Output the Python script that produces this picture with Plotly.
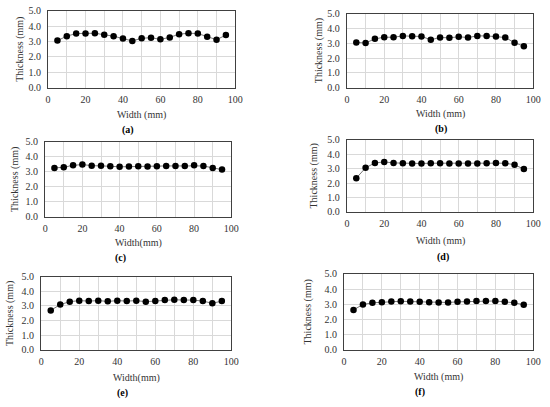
# Thickness profiles across the width for six samples (a)-(f)
import plotly.graph_objects as go

# Data
width_mm = [5, 10, 15, 20, 25, 30, 35, 40, 45, 50, 55, 60, 65, 70, 75, 80, 85, 90, 95]

thickness_a = [3.06, 3.35, 3.52, 3.52, 3.54, 3.44, 3.35, 3.19, 3.04, 3.21, 3.25, 3.14,
               3.27, 3.48, 3.54, 3.52, 3.31, 3.12, 3.42]
thickness_b = [3.06, 3.02, 3.30, 3.41, 3.41, 3.50, 3.48, 3.46, 3.24, 3.39, 3.37, 3.44,
               3.39, 3.50, 3.50, 3.46, 3.39, 3.04, 2.80]
thickness_c = [3.26, 3.30, 3.43, 3.48, 3.41, 3.41, 3.37, 3.33, 3.35, 3.37, 3.35, 3.37,
               3.39, 3.39, 3.39, 3.43, 3.39, 3.26, 3.15]
thickness_d = [2.34, 3.06, 3.40, 3.47, 3.40, 3.38, 3.36, 3.36, 3.38, 3.38, 3.36, 3.36,
               3.36, 3.36, 3.38, 3.40, 3.38, 3.27, 2.97]
thickness_e = [2.69, 3.09, 3.29, 3.36, 3.33, 3.36, 3.31, 3.36, 3.33, 3.36, 3.29, 3.33,
               3.40, 3.42, 3.40, 3.40, 3.33, 3.18, 3.33]
thickness_f = [2.62, 2.98, 3.09, 3.13, 3.17, 3.19, 3.17, 3.15, 3.13, 3.11, 3.11, 3.15,
               3.17, 3.21, 3.21, 3.21, 3.15, 3.09, 2.96]

panel_labels = ["(a)", "(b)", "(c)", "(d)", "(e)", "(f)"]
x_titles = ["Width (mm)", "Width (mm)", "Width(mm)", "Width (mm)", "Width(mm)", "Width (mm)"]
y_title = "Thickness (mm)"

series = [thickness_a, thickness_b, thickness_c, thickness_d, thickness_e, thickness_f]

W, H = 550, 407
FONT = "Liberation Serif"

# plot boxes in pixels: left, right, top, bottom
boxes = [
    (46, 237, 5, 84),
    (351, 541, 8, 84),
    (43, 233, 140, 217),
    (351, 541, 138, 212),
    (39, 233, 279, 354),
    (348, 541, 276, 354),
]
# y-title x centre, x-title y centre, panel label (x, y)
ytitle_x = [18, 322, 12, 317, 7, 311]
xtitle_y = [112, 111, 244, 242, 383, 382]
label_pos = [(128, 128), (447, 127), (120, 260), (449, 259), (122, 399), (425, 398)]

fig = go.Figure()
layout = {}
annotations = []

for i, (vals, box) in enumerate(zip(series, boxes)):
    n = "" if i == 0 else str(i + 1)
    left, right, top, bottom = box

    fig.add_trace(go.Scatter(
        x=width_mm, y=vals, mode="lines+markers",
        xaxis="x" + n, yaxis="y" + n,
        line=dict(color="#555", width=0.8),
        marker=dict(color="black", size=6.5),
        showlegend=False,
    ))

    layout["xaxis" + n] = dict(
        domain=[left / W, right / W], anchor="y" + n,
        range=[0, 100], dtick=20, tick0=0,
        showgrid=True, gridcolor="#d9d9d9", gridwidth=1,
        minor=dict(dtick=10, showgrid=True, gridcolor="#d9d9d9", gridwidth=1),
        showline=True, linecolor="#404040", linewidth=1.3, mirror=True,
        zeroline=False, ticks="", ticklabelstandoff=2,
        tickfont=dict(family=FONT, size=10, color="#333"),
    )
    layout["yaxis" + n] = dict(
        domain=[1 - bottom / H, 1 - top / H], anchor="x" + n,
        range=[0, 5], dtick=1, tickformat=".1f",
        showgrid=True, gridcolor="#d9d9d9", gridwidth=1,
        showline=True, linecolor="#404040", linewidth=1.3, mirror=True,
        zeroline=False, ticks="", ticklabelstandoff=4,
        tickfont=dict(family=FONT, size=10, color="#333"),
    )

    # axis titles and panel label
    annotations.append(dict(
        text=y_title, x=ytitle_x[i] / W, y=1 - (top + bottom) / 2 / H,
        xref="paper", yref="paper", textangle=-90, showarrow=False,
        xanchor="center", yanchor="middle",
        font=dict(family=FONT, size=10, color="#333"),
    ))
    annotations.append(dict(
        text=x_titles[i], x=(left + right) / 2 / W, y=1 - xtitle_y[i] / H,
        xref="paper", yref="paper", showarrow=False,
        xanchor="center", yanchor="middle",
        font=dict(family=FONT, size=10, color="#333"),
    ))
    lx, ly = label_pos[i]
    annotations.append(dict(
        text="<b>" + panel_labels[i] + "</b>", x=lx / W, y=1 - ly / H,
        xref="paper", yref="paper", showarrow=False,
        xanchor="center", yanchor="middle",
        font=dict(family=FONT, size=10, color="black"),
    ))

fig.update_layout(
    width=W, height=H,
    margin=dict(l=0, r=0, t=0, b=0),
    paper_bgcolor="white", plot_bgcolor="white",
    annotations=annotations,
    **layout,
)

# drop the browser's default page margin so the figure sits at (0, 0)
fig.write_html("out.html", config={"displayModeBar": False},
               post_script="document.body.style.margin='0';")
